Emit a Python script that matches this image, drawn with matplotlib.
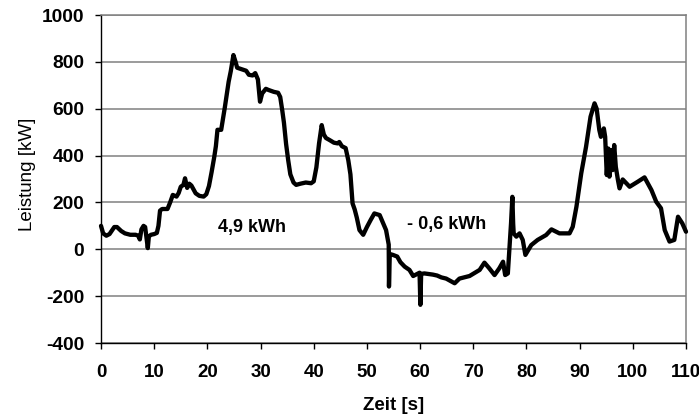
import matplotlib
matplotlib.use('Agg')
import matplotlib.pyplot as plt

plt.rcParams['font.family'] = ['Liberation Sans', 'DejaVu Sans']
plt.rcParams['axes.unicode_minus'] = False

# Zeit [s]
zeit = [0, 0.4, 1.0, 1.6, 2.5, 3.0, 3.8, 4.5, 5.5, 6.5, 7.0, 7.3, 7.6, 8.0, 8.3, 8.6, 8.8,
        9.0, 9.4, 10.0, 10.5, 10.8, 11.1, 11.5, 12.5, 13.0, 13.5, 14.2, 14.6, 15.0, 15.5,
        15.8, 16.2, 16.6, 17.0, 17.8, 18.5, 19.3, 19.8, 20.3, 20.8, 21.3, 21.6, 21.9, 22.6,
        23.3, 24.0, 24.4, 24.9, 25.3, 25.6, 26.5, 27.3, 27.8, 28.5, 29.0, 29.5, 29.9, 30.3,
        31.0, 31.5, 32.5, 33.3, 33.7, 34.1, 34.4, 34.8, 35.2, 35.6, 36.2, 36.7, 37.5, 38.5,
        39.5, 40.0, 40.5, 41.0, 41.5, 41.9, 42.3, 43.0, 43.8, 44.5, 44.8, 45.3, 46.0, 46.5,
        46.9, 47.3, 47.7, 48.1, 48.6, 49.3, 50.0, 50.7, 51.4, 52.4, 53.6, 54.1, 54.15, 54.3,
        54.9, 55.7, 56.3, 57.1, 58.0, 58.7, 59.9, 60.05, 60.2, 60.8, 62.4, 63.2, 64.0, 64.9,
        66.5, 67.4, 69.3, 71.2, 72.1, 73.0, 74.0, 74.9, 75.6, 76.0, 76.5, 77.1, 77.35, 77.5,
        77.6, 78.1, 78.7, 79.3, 79.8, 80.9, 82.1, 83.7, 84.7, 86.2, 88.1, 88.7, 89.4, 90.3,
        91.2, 92.05, 92.8, 93.2, 93.7, 94.0, 94.55, 94.8, 95.1, 95.4, 95.6, 95.9, 96.2, 96.5,
        96.8, 97.2, 97.5, 98.1, 99.4, 100.9, 102.2, 103.5, 104.4, 105.3, 106.0, 106.9,
        107.8, 108.5, 109.3, 110.0]

# Leistung [kW]
leistung = [100, 68, 58, 65, 95, 95, 78, 68, 62, 62, 58, 42, 85, 100, 95, 40, 5,
            55, 62, 65, 70, 100, 165, 172, 172, 200, 232, 225, 240, 267, 275,
            303, 262, 280, 272, 239, 228, 225, 235, 270, 330, 395, 440, 510, 510,
            608, 715, 760, 829, 800, 775, 768, 762, 745, 742, 752, 725, 630, 665,
            685, 680, 672, 668, 650, 590, 540, 450, 380, 320, 285, 275, 280, 285,
            282, 290, 350, 452, 530, 490, 475, 466, 455, 452, 458, 440, 432, 380,
            320, 196, 170, 135, 82, 62, 95, 125, 153, 146, 82, 20, -159, -20,
            -24, -31, -55, -74, -88, -114, -100, -237, -105, -103, -108, -112, -120, -125,
            -145, -125, -114, -88, -57, -81, -110, -81, -53, -110, -103, 111, 224, 110,
            68, 54, 68, 40, -24, 18, 40, 61, 85, 68, 68, 96, 182, 324,
            437, 566, 623, 600, 509, 480, 516, 480, 317, 430, 310, 423, 338, 445,
            352, 296, 260, 298, 267, 288, 307, 253, 203, 175, 82, 33,
            40, 139, 111, 75]

x_ticks = [0, 10, 20, 30, 40, 50, 60, 70, 80, 90, 100, 110]
y_ticks = [-400, -200, 0, 200, 400, 600, 800, 1000]

fig = plt.figure(figsize=(6.99, 4.18), dpi=100)
ax = fig.add_axes([0.1445, 0.1794, 0.8369, 0.7847])

ax.plot(zeit, leistung, color='black', linewidth=3.1, solid_joinstyle='round',
        solid_capstyle='round', zorder=3, clip_on=False)

ax.set_xlim(0, 110)
ax.set_ylim(-400, 1000)
ax.set_xticks(x_ticks)
ax.set_yticks(y_ticks)
ax.set_xticklabels([str(v) for v in x_ticks], fontweight='bold', fontsize=13.5)
ax.set_yticklabels([str(v) for v in y_ticks], fontweight='bold', fontsize=13.8)
ax.tick_params(axis='both', direction='out', length=4, width=1, color='black')
ax.tick_params(axis='y', pad=8)
ax.tick_params(axis='x', pad=11)

ax.yaxis.grid(True, color='#808080', linewidth=1.1)
ax.set_axisbelow(True)
for s in ['top', 'right']:
    ax.spines[s].set_color('#808080')
    ax.spines[s].set_linewidth(1.1)
for s in ['left', 'bottom']:
    ax.spines[s].set_color('black')
    ax.spines[s].set_linewidth(1)

ax.text(0.5, -0.192, 'Zeit [s]', transform=ax.transAxes, ha='center', va='center',
        fontsize=13.5, fontweight='bold')
ax.text(-0.1265, 0.515, 'Leistung [kW]', transform=ax.transAxes, ha='center', va='center',
        fontsize=13.5, rotation=90)

ax.text(28.3, 91, '4,9 kWh', ha='center', va='center', fontsize=13, fontweight='bold')
ax.text(64.9, 104, '- 0,6 kWh', ha='center', va='center', fontsize=13, fontweight='bold')

fig.savefig('out.png', dpi=100)
